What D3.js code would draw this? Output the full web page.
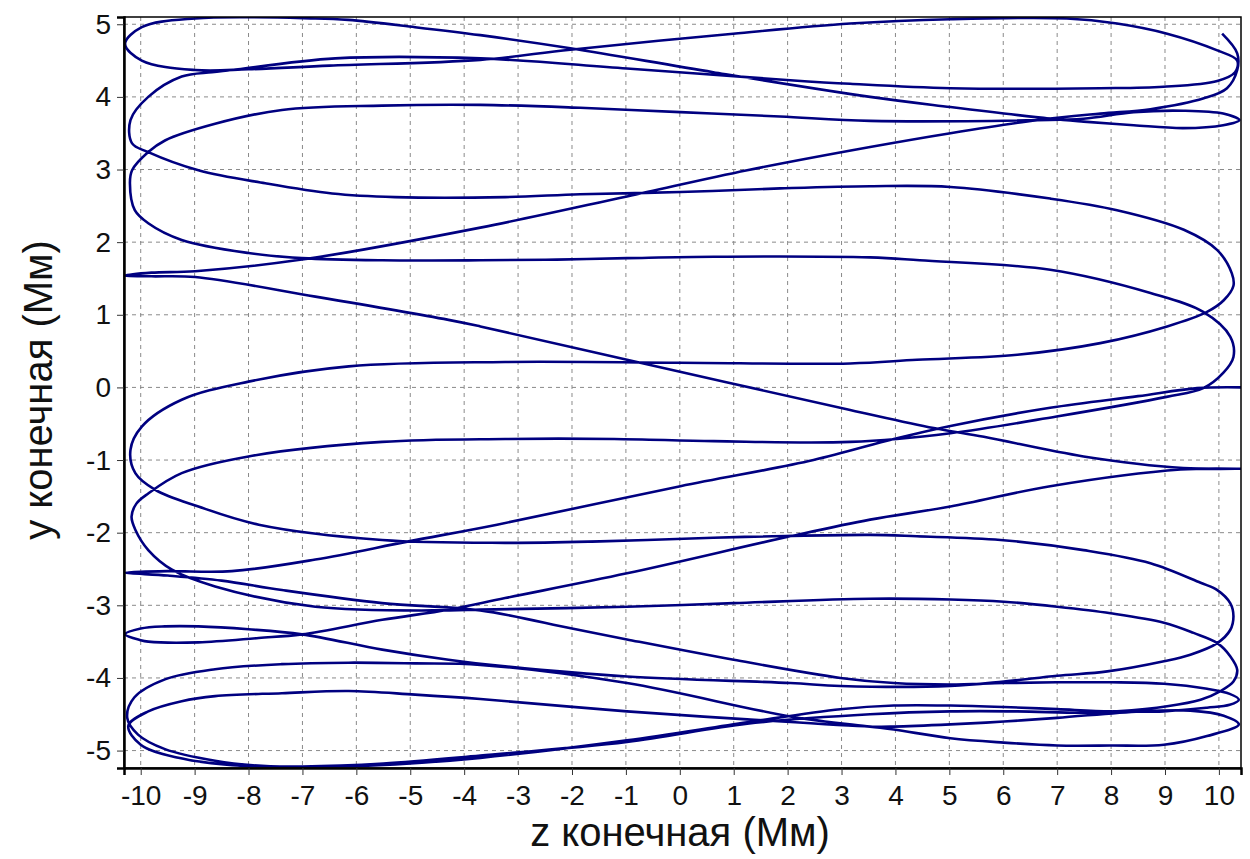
<!DOCTYPE html>
<html>
<head>
<meta charset="utf-8">
<script src="https://cdn.jsdelivr.net/npm/d3@7"></script>
<style>
  body { margin: 0; background: #fff; }
  text { font-family: "Liberation Sans", Arial, sans-serif; }
</style>
</head>
<body>
<script>
// axis ticks
var zTicks = d3.range(-10, 11);
var yTicks = d3.range(-5, 6);

// trajectory in time order (z, y in Mm)
var trajZ = [
  10.45, 9.6, 8.5, 6.87, 5.02, 3.97, 2.48, 0.01, -3.39, -5.03, -6.76, -8.31, -9.5, -10.29,
  -9.5, -8.5, -7.38, -5.52, -3.7, -2.0, -0.98, 1.0, 2.98, 3.97, 5.02, 6.01, 7.0, 7.99, 8.98, 9.78, 10.2, 10.37,
  10.2, 9.78, 8.98, 7.99, 7.0, 6.01, 5.02, 3.97, 2.98, 1.25, -0.98, -3.7, -5.28, -6.5, -7.75, -8.62, -9.55, -10.05, -10.25,
  -10.12, -9.55, -8.62, -7.38, -6.14, -4.91, -3.7, -0.98, 2.05, 3.53, 3.97, 5.02, 6.01, 7.0, 7.99, 8.98, 9.78, 10.37,
  10.09, 9.47, 8.54, 7.0, 6.01, 5.02, 3.97, 3.53, 1.25, -0.98, -3.7, -4.91, -6.14, -7.38, -8.62, -9.24, -9.86, -10.23,
  -10.0, -9.3, -8.3, -7.0, -5.5, -3.7, -0.98, 1.25, 3.53, 5.02, 6.26, 7.49, 8.11, 9.04, 9.66, 10.03, 10.27, 10.34,
  10.21, 9.97, 9.53, 8.98, 7.99, 7.0, 6.01, 5.02, 3.53, 1.0, -0.98, -3.7, -4.29, -6.76, -8.62, -9.42, -9.86, -10.1, -10.17,
  -10.08, -9.86, -9.24, -8.0, -5.52, -3.24, -1.22, 0.63, 3.16,
  5.02, 6.99, 9.03, 9.71, 10.08, 10.27, 10.21, 9.71, 8.73, 6.87, 4.45,
  3.53, 0.63, -0.98, -2.28, -3.7, -5.52, -7.01, -8.0, -9.24, -9.86, -10.11, -10.2,
  -10.16, -9.86, -9.55, -8.62, -7.38, -5.52, -3.7, -1.85, 0.01, 1.86, 3.53, 6.63, 7.49, 8.42, 9.34, 10.08, 10.38,
  10.08, 9.34, 8.42, 7.49, 6.87, 5.02, 3.53, 0.62, -2.03, -3.7, -4.91, -6.15, -6.76,
  -8.99, -9.98, -10.29, -9.98, -8.99,
  -8.0, -6.5, -3.7, -2.03, 0.99, 3.16, 5.02, 7.18, 8.11, 9.04, 9.97, 10.34,
  10.3, 9.97, 8.97, 7.8, 5.02, 3.16,
  2.05, -0.98, -3.7, -6.39, -8.31, -8.68, -9.24, -9.86, -10.19,
  -10.16, -9.86, -8.93, -7.69, -6.45, -5.28, -3.24,
  -1.85, 0.01, 1.86, 3.53, 5.02, 6.87, 8.11, 9.35, 9.97, 10.24,
  10.27, 10.09, 9.78, 9.04, 7.8, 6.26, 4.4, 3.16,
  0.0, -3.24, -6.14, -8.0, -9.24, -9.98, -10.19, -10.1, -9.73, -8.93, -7.81, -5.52, -3.24,
  -1.48, 0.62, 1.73, 3.53, 4.4, 5.95, 7.49, 8.73, 9.66, 9.97, 10.21, 10.27, 10.21, 9.97, 9.47, 8.98, 7.93, 7.0, 6.01, 5.02, 2.98, 2.05,
  -0.98, -3.24, -4.29, -5.52, -7.01, -8.0, -8.93, -9.55, -10.0, -10.29, -10.0, -9.86, -8.93, -7.81, -7.01,
  -5.52, -4.29, -3.24, -0.98, 2.05, 3.53, 5.02, 6.87, 9.29, 10.45,
  9.34, 7.49, 5.64, 4.71, 3.16, -0.98, -3.7, -4.29, -6.76, -8.99, -9.8, -10.3,
  -9.8, -8.99, -7.01, -3.7, -0.98, 1.25, 3.53, 5.02, 6.63, 7.8, 8.73, 9.72, 10.15, 10.34, 10.34, 10.06
];
var trajY = [
  0.0, -0.01, -0.12, -0.28, -0.53, -0.71, -1.0, -1.36, -1.89, -2.12, -2.37, -2.53, -2.53, -2.55,
  -2.59, -2.66, -2.79, -2.97, -3.07, -3.32, -3.47, -3.75, -4.0, -4.07, -4.09, -4.07, -4.06, -4.06, -4.08, -4.15, -4.22, -4.3,
  -4.37, -4.41, -4.46, -4.46, -4.43, -4.4, -4.38, -4.38, -4.43, -4.61, -4.86, -5.1, -5.19, -5.22, -5.21, -5.14, -4.98, -4.78, -4.55,
  -4.27, -4.02, -3.88, -3.81, -3.79, -3.8, -3.82, -4.07, -4.53, -4.67, -4.71, -4.83, -4.89, -4.93, -4.93, -4.92, -4.8, -4.64,
  -4.52, -4.45, -4.46, -4.55, -4.6, -4.64, -4.67, -4.67, -4.57, -4.46, -4.29, -4.23, -4.18, -4.21, -4.25, -4.32, -4.46, -4.66,
  -4.92, -5.1, -5.2, -5.22, -5.18, -5.07, -4.88, -4.63, -4.5, -4.46, -4.46, -4.48, -4.46, -4.39, -4.3, -4.18, -4.05, -3.89,
  -3.7, -3.52, -3.38, -3.24, -3.11, -3.02, -2.95, -2.92, -2.91, -2.97, -3.02, -3.06, -3.07, -3.02, -2.74, -2.51, -2.24, -1.96, -1.78,
  -1.6, -1.46, -1.18, -0.95, -0.75, -0.71, -0.71, -0.74, -0.75,
  -0.63, -0.4, -0.13, -0.01, 0.2, 0.42, 0.7, 1.04, 1.3, 1.62, 1.75,
  1.79, 1.8, 1.78, 1.76, 1.75, 1.75, 1.78, 1.85, 2.03, 2.26, 2.44, 2.81,
  2.99, 3.24, 3.4, 3.63, 3.82, 3.88, 3.89, 3.85, 3.79, 3.73, 3.67, 3.68, 3.7, 3.79, 3.81, 3.77, 3.68,
  3.61, 3.57, 3.61, 3.66, 3.7, 3.86, 4.0, 4.34, 4.67, 4.85, 4.96, 5.06, 5.08,
  5.08, 4.96, 4.73, 4.5, 4.37,
  4.38, 4.43, 4.51, 4.65, 4.87, 5.01, 5.07, 5.08, 5.01, 4.87, 4.64, 4.5,
  4.34, 4.22, 4.14, 4.12, 4.12, 4.18,
  4.23, 4.39, 4.53, 4.53, 4.37, 4.34, 4.28, 4.0, 3.68,
  3.36, 3.24, 2.99, 2.81, 2.67, 2.62, 2.62,
  2.66, 2.69, 2.74, 2.77, 2.76, 2.6, 2.44, 2.17, 1.89, 1.57,
  1.4, 1.2, 1.04, 0.84, 0.61, 0.45, 0.38, 0.33,
  0.34, 0.35, 0.29, 0.08, -0.17, -0.54, -0.86, -1.18, -1.41, -1.64, -1.89, -2.1, -2.14,
  -2.12, -2.07, -2.05, -2.03, -2.05, -2.1, -2.24, -2.42, -2.69, -2.79, -2.97, -3.15, -3.34, -3.52, -3.68, -3.77, -3.91, -3.97, -4.05, -4.11, -4.11, -4.07,
  -3.98, -3.84, -3.75, -3.61, -3.4, -3.33, -3.29, -3.29, -3.32, -3.4, -3.48, -3.5, -3.51, -3.45, -3.4,
  -3.2, -3.06, -2.9, -2.56, -2.05, -1.82, -1.64, -1.36, -1.13, -1.12,
  -1.11, -0.95, -0.68, -0.56, -0.31, 0.38, 0.84, 0.93, 1.25, 1.52, 1.53, 1.54,
  1.58, 1.6, 1.76, 2.2, 2.63, 2.99, 3.31, 3.5, 3.68, 3.77, 3.83, 3.98, 4.12, 4.37, 4.6, 4.87
];

var W = 1250, H = 859;
var margin = {left: 124, right: 9, top: 17, bottom: 91};

var svg = d3.select("body").append("svg")
  .attr("width", W)
  .attr("height", H);

var x = d3.scaleLinear().domain([-10.31, 10.41]).range([margin.left, W - margin.right]);
var y = d3.scaleLinear().domain([-5.24, 5.10]).range([H - margin.bottom, margin.top]);

// dashed grid
svg.selectAll(".vg").data(zTicks).enter().append("line")
  .attr("x1", function(d) { return x(d); })
  .attr("x2", function(d) { return x(d); })
  .attr("y1", y.range()[1])
  .attr("y2", y.range()[0])
  .style("stroke", "#8a8a8a")
  .style("stroke-dasharray", "4,4");
svg.selectAll(".hg").data(yTicks).enter().append("line")
  .attr("y1", function(d) { return y(d); })
  .attr("y2", function(d) { return y(d); })
  .attr("x1", x.range()[0])
  .attr("x2", x.range()[1])
  .style("stroke", "#8a8a8a")
  .style("stroke-dasharray", "4,4");

svg.append("clipPath").attr("id", "clip").append("rect")
  .attr("x", x.range()[0]).attr("y", y.range()[1])
  .attr("width", x.range()[1] - x.range()[0])
  .attr("height", y.range()[0] - y.range()[1]);

var line = d3.line()
  .x(function(d) { return x(d[0]); })
  .y(function(d) { return y(d[1]); })
  .curve(d3.curveCatmullRom.alpha(0.5));

var pts = trajZ.map(function(z, i) { return [z, trajY[i]]; });

svg.append("path")
  .attr("d", line(pts))
  .attr("clip-path", "url(#clip)")
  .style("fill", "none")
  .style("stroke", "#000080")
  .style("stroke-width", 2.6)
  .style("stroke-linejoin", "round");

// frame
svg.append("rect")
  .attr("x", x.range()[0]).attr("y", y.range()[1])
  .attr("width", x.range()[1] - x.range()[0])
  .attr("height", y.range()[0] - y.range()[1])
  .style("fill", "none")
  .style("stroke", "#000")
  .style("stroke-width", 1.5);

// axes: minor ticks every 0.25, labelled major ticks every 1
var fmt = function(d) { return String(d); };
var gx = svg.append("g").attr("transform", "translate(0," + y.range()[0] + ")");
gx.call(d3.axisBottom(x).tickValues(d3.range(-10.25, 10.3, 0.25)).tickSize(4).tickFormat(""));
gx.call(d3.axisBottom(x).tickValues(zTicks).tickSize(7).tickPadding(10).tickFormat(fmt));
var gy = svg.append("g").attr("transform", "translate(" + x.range()[0] + ",0)");
gy.call(d3.axisLeft(y).tickValues(d3.range(-5.25, 5.1, 0.25)).tickSize(4).tickFormat(""));
gy.call(d3.axisLeft(y).tickValues(yTicks).tickSize(7).tickPadding(6).tickFormat(fmt));

[gx, gy].forEach(function(g) {
  g.selectAll(".domain").style("stroke", "#000").style("stroke-width", 2.5);
  g.selectAll(".tick line").style("stroke", "#333");
  g.selectAll("text").style("font-size", "28px").style("fill", "#111")
    .style("font-family", "Liberation Sans, Arial, sans-serif");
});

// axis titles
svg.append("text")
  .attr("x", 680).attr("y", 846)
  .attr("text-anchor", "middle")
  .style("font-size", "40px")
  .style("fill", "#111")
  .text("z конечная (Мм)");

svg.append("text")
  .attr("transform", "translate(52,390) rotate(-90)")
  .attr("text-anchor", "middle")
  .style("font-size", "40px")
  .style("fill", "#111")
  .text("y конечная (Мм)");
</script>
</body>
</html>
